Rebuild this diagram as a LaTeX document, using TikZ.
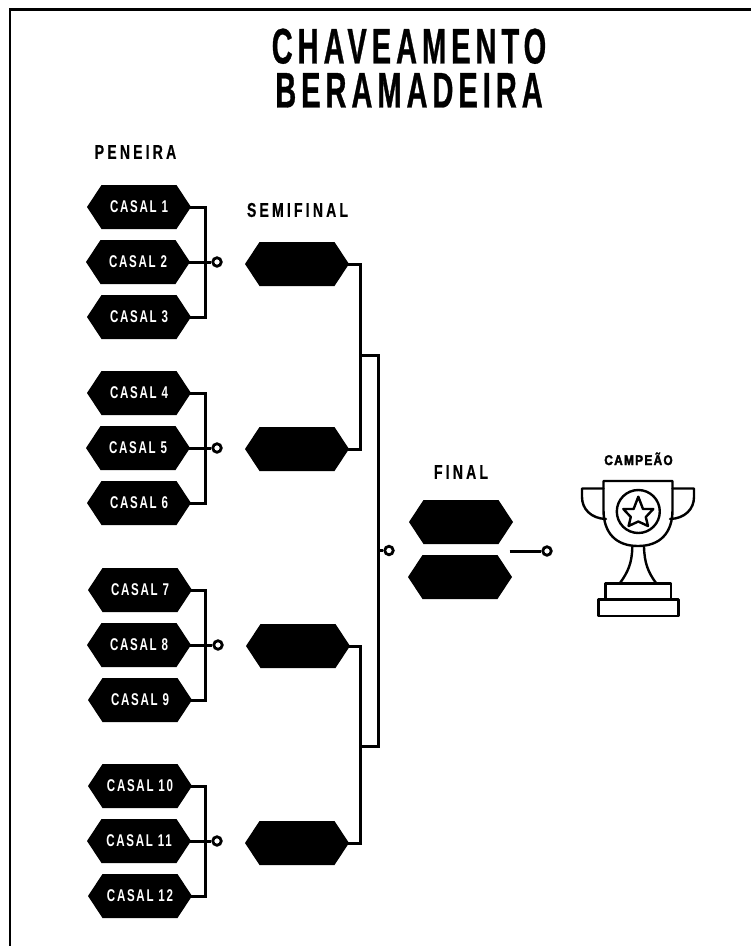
\documentclass[tikz,border=0pt]{standalone}
\usepackage{fontspec}
\setmainfont{Liberation Sans}
\newfontfamily\titlefont[FakeStretch=0.58,LetterSpace=10,FakeBold=0.6]{Liberation Sans Bold}
\newfontfamily\capfont[FakeStretch=0.70,LetterSpace=16,FakeBold=0.3]{Liberation Sans Bold}
\newfontfamily\boxfont[FakeStretch=0.68,LetterSpace=10]{Liberation Sans Bold}
\newfontfamily\champfont[FakeStretch=0.85,LetterSpace=9,FakeBold=2.5]{Liberation Sans Bold}
\tikzset{
 x=1pt,y=-1pt,
 wire/.style={line width=3pt,line cap=butt,line join=miter,black},
 hexlabel/.style={inner sep=0pt,text=white,font=\boxfont\fontsize{17}{17}\selectfont},
 heading/.style={font=\capfont\fontsize{20}{20}\selectfont,inner sep=0pt},
 bigtitle/.style={inner sep=0pt,align=center,font=\titlefont\fontsize{50}{44}\selectfont},
 ringdot/.style={circle,draw=black,fill=white,line width=2.8pt,minimum size=8.5pt,inner sep=0pt},
 cup/.style={line width=2.4pt,black,line join=round,line cap=round}
}
\newcommand{\hexat}[4]{% name, x, y, text
  \fill (#2-52,#3) -- (#2-37.5,#3-22) -- (#2+37.5,#3-22) -- (#2+52,#3) -- (#2+37.5,#3+22) -- (#2-37.5,#3+22) -- cycle;
  \node[hexlabel] (#1) at (#2,#3) {#4};
  \coordinate (#1r) at (#2+51,#3);
}
\begin{document}
\begin{tikzpicture}
\useasboundingbox (0,0) rectangle (751,946);
\fill[white] (0,0) rectangle (751,946);
\draw[line width=2.8pt] (10,946) -- (10,9.2) -- (751,9.2);
\node[bigtitle] (title) at (409,68) {CHAVEAMENTO\\BERAMADEIRA};
\node[heading] (hp) at (135.5,152) {PENEIRA};
\node[heading] (hs) at (297.5,210) {SEMIFINAL};
\node[heading] (hf) at (461,472) {FINAL};
\node[anchor=base,inner sep=0pt,font=\champfont\fontsize{14}{14}\selectfont] (hc) at (638.5,465) {CAMPEÃO};
% first round
\hexat{c1}{139}{207}{CASAL 1}
\hexat{c2}{138}{262}{CASAL 2}
\hexat{c3}{139}{317}{CASAL 3}
\hexat{c4}{139}{393}{CASAL 4}
\hexat{c5}{138}{448}{CASAL 5}
\hexat{c6}{139}{503}{CASAL 6}
\hexat{c7}{140}{590}{CASAL 7}
\hexat{c8}{139}{645}{CASAL 8}
\hexat{c9}{140}{700}{CASAL 9}
\hexat{c10}{140}{786}{CASAL 10}
\hexat{c11}{139}{841}{CASAL 11}
\hexat{c12}{140}{896}{CASAL 12}
% semifinal
\hexat{s1}{297}{264}{}
\hexat{s2}{297}{449}{}
\hexat{s3}{298}{646}{}
\hexat{s4}{297}{843}{}
% final
\hexat{f1}{461}{522}{}
\hexat{f2}{460}{577}{}
% brackets
\foreach \a/\c in {c1/c3,c4/c6,c7/c9,c10/c12}{
  \draw[wire] (\a r) -| (205,0 |- \c r) -- (\c r);
}
\node[ringdot] (r1) at (217,262) {};
\node[ringdot] (r2) at (217,448) {};
\node[ringdot] (r3) at (218,645) {};
\node[ringdot] (r4) at (217,841) {};
\draw[wire] (c2r) -- (r1);
\draw[wire] (c5r) -- (r2);
\draw[wire] (c8r) -- (r3);
\draw[wire] (c11r) -- (r4);
\draw[wire] (s1r) -| (360.5,449) -- (s2r);
\draw[wire] (s3r) -| (360.5,843) -- (s4r);
\coordinate (m1) at (360.5,355);
\coordinate (m2) at (360.5,746);
\draw[wire] (m1) -| (378.5,746) -- (m2);
\coordinate (mc) at (378.5,550.5);
\node[ringdot] (r5) at (389,550.5) {};
\draw[wire] (mc) -- (r5);
\coordinate (fw) at (509.5,551);
\node[ringdot] (r6) at (547,551) {};
\draw[wire] (fw) -- (r6);
% trophy
\begin{scope}[cup]
\draw (603.5,481) -- (672.5,481) -- (672.5,510) .. controls (672.5,533) and (660,546) .. (638,546) .. controls (616,546) and (603.5,533) .. (603.5,510) -- cycle;
\draw (603.5,488.5) -- (582,488.5) -- (582,497) .. controls (582,509) and (591,518.5) .. (606,519);
\draw (672.5,488.5) -- (694,488.5) -- (694,497) .. controls (694,509) and (685,518.5) .. (670,519);
\draw (638.3,511.5) circle[radius=21.5];
\draw (638.3,496.7) -- (643,509) -- (653.3,509) -- (645.8,517) -- (648,526) -- (638.3,521.5) -- (628.6,526) -- (630.8,517) -- (623.3,509) -- (633.6,509) -- cycle;
\draw (632.3,547) .. controls (632,563) and (628,572) .. (620,583);
\draw (644,547) .. controls (644.5,563) and (648,572) .. (656,583);
\draw (605.5,583.3) rectangle (671,599);
\draw (598.3,599.3) rectangle (678.3,615.7);
\end{scope}
\end{tikzpicture}
\end{document}
